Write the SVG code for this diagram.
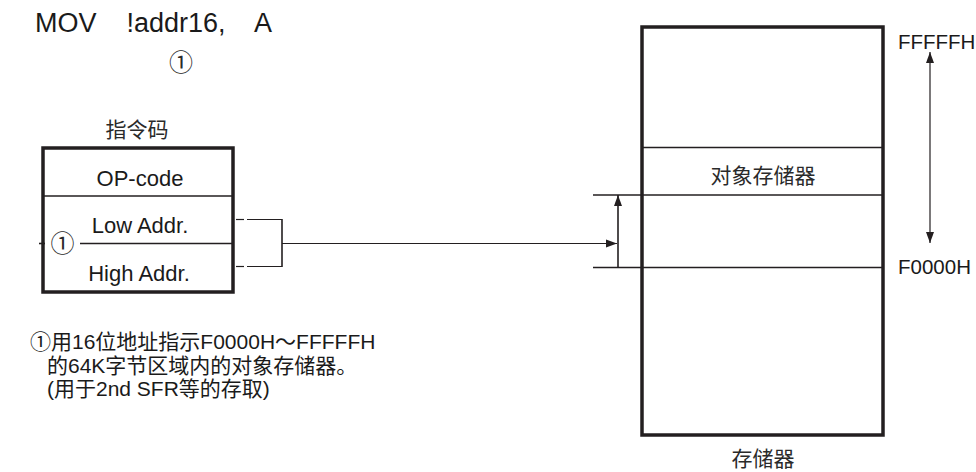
<svg xmlns="http://www.w3.org/2000/svg" width="976" height="472" viewBox="0 0 976 472">
<style>
.t{font-family:"Liberation Sans","Noto Sans CJK SC",Arial,sans-serif;fill:#1a1a1a}
.c{font-family:"Noto Sans CJK SC","Liberation Sans",sans-serif;fill:#2a2a2a}
.thick{fill:none;stroke:#231f20;stroke-width:3.5}
.thin{fill:none;stroke:#231f20;stroke-width:1.6}
.hair{fill:none;stroke:#231f20;stroke-width:1.2}
</style>
<defs>
<marker id="ah" viewBox="0 0 11 10" refX="11" refY="5" markerWidth="11" markerHeight="10" markerUnits="userSpaceOnUse" orient="auto-start-reverse">
<path d="M0,1 L11,5 L0,9 Z" fill="#231f20"/>
</marker>
</defs>
<rect width="976" height="472" fill="#fff"/>

<g id="title">
<text class="t" x="35" y="32" font-size="27" xml:space="preserve">MOV    !addr16,    A</text>
<text class="c" x="181" y="71" font-size="24" text-anchor="middle">①</text>
</g>

<g id="instruction-code">
<text class="c" x="137" y="137" font-size="21" text-anchor="middle">指令码</text>
<rect class="thick" x="43" y="148" width="190" height="144"/>
<line class="thin" x1="43" y1="196" x2="233" y2="196"/>
<line class="thin" x1="80" y1="243.5" x2="233" y2="243.5"/>
<line class="thin" x1="39" y1="243.5" x2="45" y2="243.5"/>
<text class="t" x="140" y="186" font-size="22" text-anchor="middle">OP-code</text>
<text class="t" x="140" y="233" font-size="22" text-anchor="middle">Low Addr.</text>
<text class="t" x="139" y="281" font-size="22" text-anchor="middle">High Addr.</text>
<text class="c" x="62.5" y="252" font-size="24" text-anchor="middle">①</text>
</g>

<g id="memory">
<rect class="thick" x="642" y="27" width="241" height="408"/>
<line class="thin" x1="642" y1="147.5" x2="883" y2="147.5"/>
<text class="c" x="763" y="183" font-size="21" text-anchor="middle">对象存储器</text>
<text class="c" x="763" y="466" font-size="21" text-anchor="middle">存储器</text>
<text class="t" x="898" y="49" font-size="20.5">FFFFFH</text>
<text class="t" x="898" y="274" font-size="20.5">F0000H</text>
</g>

<g id="connectors">
<line class="hair" x1="236" y1="219.5" x2="244" y2="219.5"/>
<line class="hair" x1="247" y1="219.5" x2="282" y2="219.5"/>
<line class="hair" x1="236" y1="266.5" x2="244" y2="266.5"/>
<line class="hair" x1="247" y1="266.5" x2="282" y2="266.5"/>
<line class="thin" x1="282" y1="219" x2="282" y2="267"/>
<line class="hair" x1="282" y1="243.5" x2="617" y2="243.5" marker-end="url(#ah)"/>
<line class="thin" x1="593" y1="195" x2="883" y2="195"/>
<line class="thin" x1="593" y1="267.5" x2="883" y2="267.5"/>
<line class="thin" x1="618" y1="267.5" x2="618" y2="195" marker-end="url(#ah)"/>
<line class="hair" x1="930" y1="52" x2="930" y2="243" marker-start="url(#ah)" marker-end="url(#ah)"/>
</g>

<g id="note">
<text class="t" font-size="21"><tspan x="30" y="349">①用16位地址指示F0000H～FFFFFH</tspan><tspan x="47" y="373">的64K字节区域内的对象存储器。</tspan><tspan x="47" y="396">(用于2nd SFR等的存取)</tspan></text>
</g>
</svg>
